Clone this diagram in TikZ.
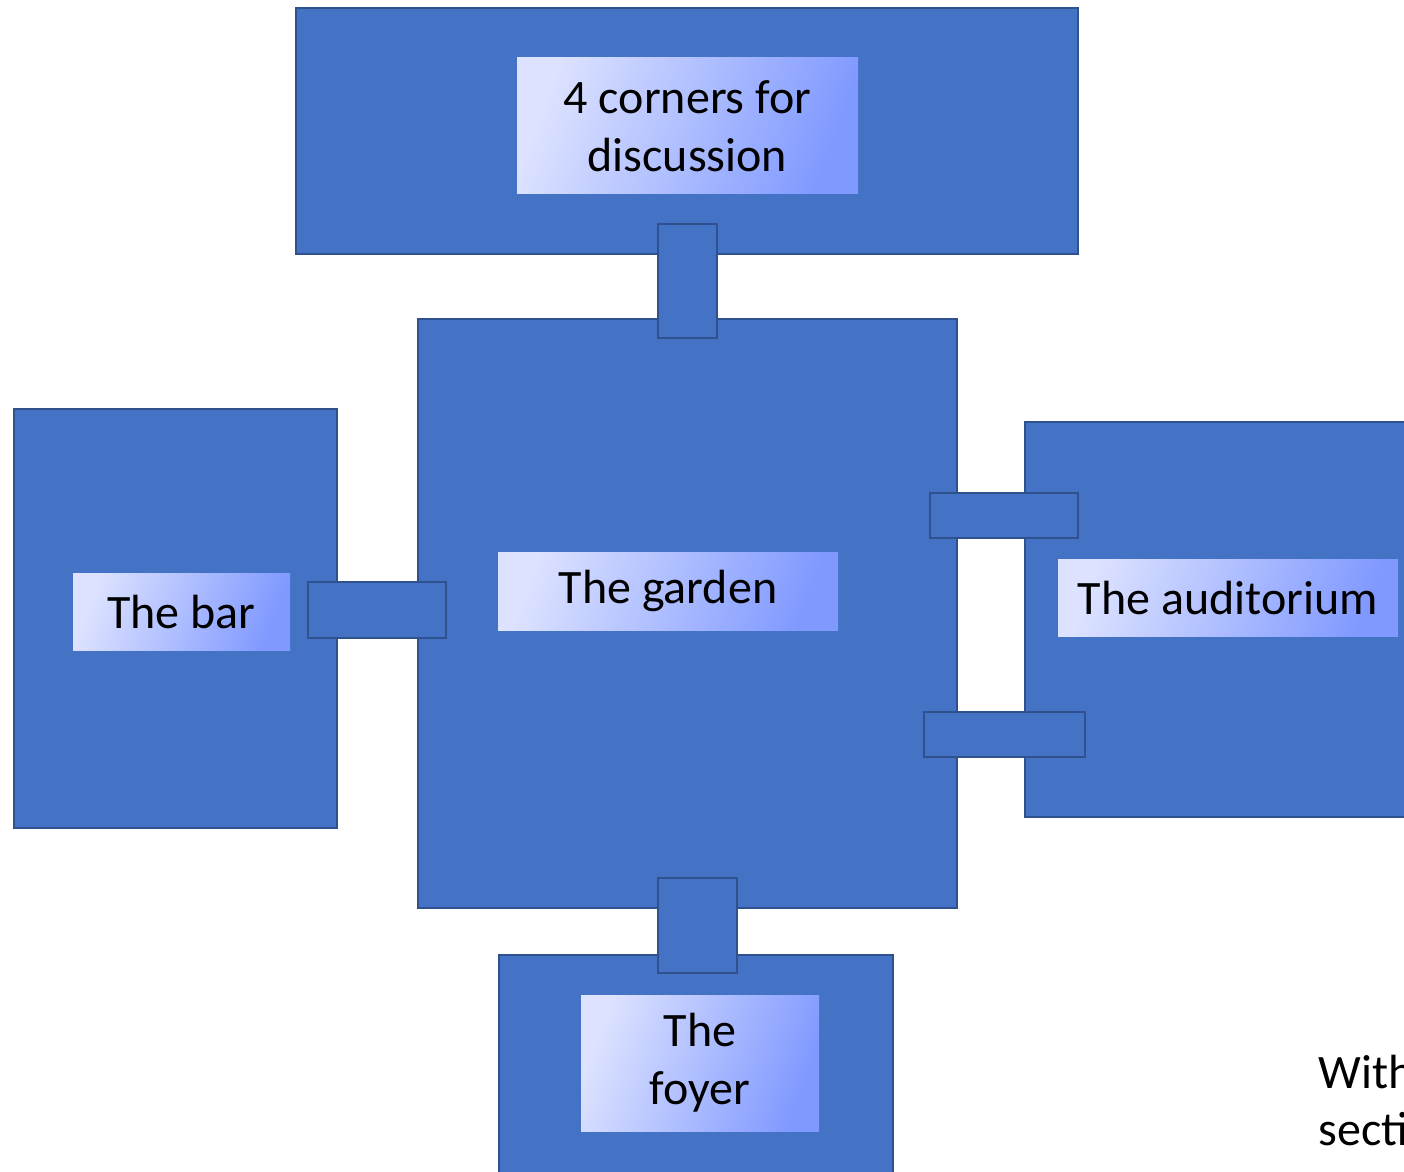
\documentclass[tikz,border=0pt]{standalone}
\usepackage{fontspec}
\setmainfont{Carlito}
\usepackage{tikz}

\definecolor{roomblue}{HTML}{4472C4}
\definecolor{roomedge}{HTML}{2F528F}
\definecolor{taglight}{HTML}{DCE2FF}
\definecolor{tagdark}{HTML}{8099FF}

\tikzset{
  room/.style={fill=roomblue, draw=roomedge, line width=1pt},
  door/.style={fill=roomblue, draw=roomedge, line width=1.2pt},
  tag/.style={shade, shading=axis, top color=taglight, bottom color=tagdark,
    shading angle=70, inner sep=0pt, align=center,
    font=\fontsize{24}{29}\selectfont},
  note/.style={anchor=base west, inner sep=0pt,
    font=\fontsize{24}{29}\selectfont}
}

\begin{document}
\begin{tikzpicture}[x=0.5pt, y=-0.5pt]
\useasboundingbox (0,0) rectangle (1404,1172);
\clip (0,0) rectangle (1404,1172);

% rooms
\draw[room] (296,8) rectangle (1078,254);
\draw[room] (418,319) rectangle (957,908);
\draw[room] (14,409) rectangle (337,828);
\draw[room] (1025,422) rectangle (1430,817);
\draw[room] (499,955) rectangle (893,1200);

% doors between the rooms
\draw[door] (658,224) rectangle (717,338);
\draw[door] (308,582) rectangle (446,638);
\draw[door] (930,493) rectangle (1078,538);
\draw[door] (924,712) rectangle (1085,757);
\draw[door] (658,878) rectangle (737,973);

% room names
\node[tag, minimum width=170.5pt, minimum height=68pt] (corners) at (687.5,126) {4 corners for\\discussion};
\node[tag, minimum width=170pt, minimum height=39pt] (garden) at (668,591) {The garden};
\node[tag, minimum width=108.5pt, minimum height=38.5pt] (bar) at (181.5,612) {The bar};
\node[tag, minimum width=170pt, minimum height=38.5pt] (auditorium) at (1228,598) {The auditorium};
\node[tag, minimum width=119pt, minimum height=68pt] (foyer) at (700,1063) {The\\foyer};

% side text, cut by the page edge
\node[note] (within) at (1318,1088) {Within};
\node[note] (section) at (1318,1145) {section};
\end{tikzpicture}
\end{document}
